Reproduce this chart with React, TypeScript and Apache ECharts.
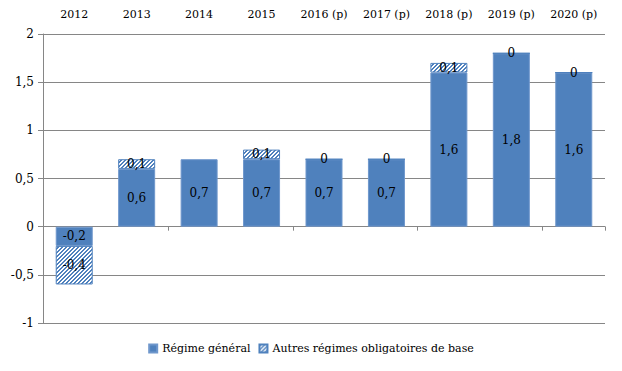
import React, { useEffect, useRef } from "react";
import * as echarts from "echarts";

const categories = ["2012", "2013", "2014", "2015", "2016 (p)", "2017 (p)", "2018 (p)", "2019 (p)", "2020 (p)"];
const regimeGeneral = [-0.2, 0.6, 0.7, 0.7, 0.7, 0.7, 1.6, 1.8, 1.6];
const autresRegimes: (number | null)[] = [-0.4, 0.1, null, 0.1, 0, 0, 0.1, 0, 0];
const seriesNames = ["Régime général", "Autres régimes obligatoires de base"];

const FONT = "DejaVu Serif";
const BLUE = "#4f81bd";
const fmt = (v: number) => String(v).replace(".", ",");

function makeHatch(): string {
  const size = 8;
  const c = document.createElement("canvas");
  c.width = size;
  c.height = size;
  const ctx = c.getContext("2d")!;
  ctx.fillStyle = "#ffffff";
  ctx.fillRect(0, 0, size, size);
  ctx.fillStyle = BLUE;
  for (let y = 0; y < size; y++) {
    for (let x = 0; x < size; x++) {
      if ((x + y) % 4 < 2) ctx.fillRect(x, y, 1, 1);
    }
  }
  return c.toDataURL();
}

export default function App() {
  const ref = useRef<HTMLDivElement>(null);
  useEffect(() => {
    const chart = echarts.init(ref.current!, null, { renderer: "svg" });
    const hatch = { image: makeHatch(), repeat: "repeat", imageWidth: 8, imageHeight: 8 };
    chart.setOption({
      animation: false,
      textStyle: { fontFamily: FONT },
      grid: { left: 43, right: 17, top: 34, bottom: 48 },
      legend: {
        bottom: 12,
        left: "center",
        itemWidth: 8,
        itemHeight: 8,
        itemGap: 8,
        icon: "rect",
        textStyle: { fontFamily: FONT, fontSize: 11, color: "#000" },
        data: seriesNames,
      },
      xAxis: [
        {
          type: "category",
          data: categories,
          position: "top",
          axisLine: { show: false, onZero: false },
          axisTick: { show: false },
          axisLabel: { fontFamily: FONT, fontSize: 11, color: "#000", margin: 14, interval: 0 },
        },
        {
          type: "category",
          data: categories,
          position: "bottom",
          axisLine: { show: true, onZero: true, lineStyle: { color: "#868686" } },
          axisTick: { show: true, length: 4, lineStyle: { color: "#868686" } },
          axisLabel: { show: false },
        },
      ],
      yAxis: {
        type: "value",
        min: -1,
        max: 2,
        interval: 0.5,
        axisLine: { show: true, lineStyle: { color: "#868686" } },
        axisTick: { show: true, length: 5, lineStyle: { color: "#868686" } },
        splitLine: { lineStyle: { color: "#868686" } },
        axisLabel: { fontFamily: FONT, fontSize: 12, color: "#000", margin: 9, formatter: (v: number) => fmt(v) },
      },
      series: [
        {
          name: seriesNames[0],
          type: "bar",
          stack: "total",
          barWidth: 37,
          data: regimeGeneral,
          itemStyle: { color: BLUE, borderColor: "#6f97cc", borderWidth: 1 },
          label: {
            show: true,
            position: "inside",
            fontFamily: FONT,
            fontSize: 12,
            color: "#000",
            formatter: (p: any) => fmt(p.value),
          },
        },
        {
          name: seriesNames[1],
          type: "bar",
          stack: "total",
          barWidth: 37,
          data: autresRegimes,
          itemStyle: {
            color: hatch,
            borderColor: BLUE,
            borderWidth: 1,
          },
          label: {
            show: true,
            position: "inside",
            fontFamily: FONT,
            fontSize: 12,
            color: "#000",
            formatter: (p: any) => (p.value == null ? "" : fmt(p.value)),
          },
        },
      ],
    });
    return () => chart.dispose();
  }, []);
  return <div ref={ref} style={{ width: 622, height: 371, position: "absolute", left: 0, top: 0 }} />;
}
